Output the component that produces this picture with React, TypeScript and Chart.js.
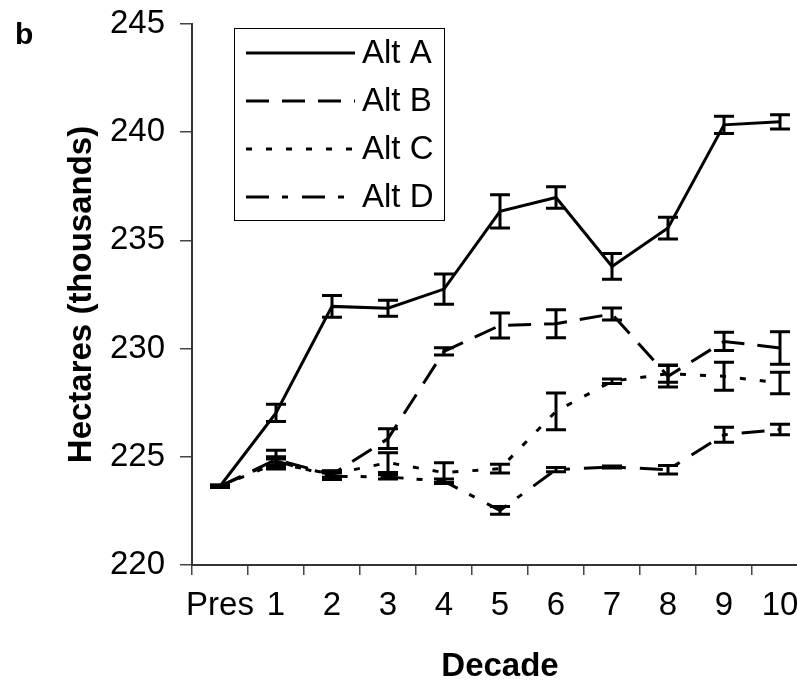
import React, { useEffect, useRef } from "react";
import { Chart, registerables } from "chart.js";

Chart.register(...registerables);

const decades = ["Pres", "1", "2", "3", "4", "5", "6", "7", "8", "9", "10"];
const seriesNames = ["Alt A", "Alt B", "Alt C", "Alt D"];
const altA = [223.64, 227.03, 231.95, 231.87, 232.75, 236.34, 236.98, 233.8, 235.57, 240.34, 240.48];
const altAErr = [0.05, 0.4, 0.5, 0.37, 0.7, 0.77, 0.5, 0.6, 0.5, 0.4, 0.33];
const altB = [223.64, 224.87, 224.18, 225.84, 229.87, 231.07, 231.15, 231.6, 228.72, 230.33, 230.03];
const altBErr = [0.05, 0.43, 0.15, 0.46, 0.17, 0.58, 0.65, 0.28, 0.5, 0.42, 0.75];
const altC = [223.64, 224.7, 224.2, 224.73, 224.27, 224.45, 227.1, 228.49, 228.84, 228.72, 228.41];
const altCErr = [0.05, 0.2, 0.15, 0.46, 0.46, 0.2, 0.85, 0.1, 0.4, 0.65, 0.5];
const altD = [223.64, 224.8, 224.1, 224.07, 223.87, 222.52, 224.41, 224.53, 224.4, 226.02, 226.26];
const altDErr = [0.05, 0.2, 0.15, 0.1, 0.1, 0.18, 0.1, 0.05, 0.2, 0.35, 0.24];
const yTicks = [220, 225, 230, 235, 240, 245];

const FONT = "'Liberation Sans', Arial, sans-serif";

const errorBarPlugin = {
  id: "errorBars",
  afterDatasetsDraw(chart: any) {
    const ctx = chart.ctx;
    const y = chart.scales.y;
    ctx.save();
    ctx.strokeStyle = "#000";
    ctx.lineWidth = 3;
    ctx.setLineDash([]);
    chart.data.datasets.forEach((ds: any, di: number) => {
      const meta = chart.getDatasetMeta(di);
      meta.data.forEach((pt: any, i: number) => {
        const v = ds.data[i];
        const e = ds.errors[i];
        const x = pt.x;
        const y1 = y.getPixelForValue(v + e);
        const y2 = y.getPixelForValue(v - e);
        ctx.beginPath();
        ctx.moveTo(x, y1);
        ctx.lineTo(x, y2);
        ctx.moveTo(x - 10, y1);
        ctx.lineTo(x + 10, y1);
        ctx.moveTo(x - 10, y2);
        ctx.lineTo(x + 10, y2);
        ctx.stroke();
      });
    });
    ctx.restore();
  },
};

const legendPlugin = {
  id: "boxLegend",
  afterDraw(chart: any) {
    const ctx = chart.ctx;
    ctx.save();
    ctx.setLineDash([]);
    ctx.lineWidth = 1;
    ctx.strokeStyle = "#000";
    ctx.strokeRect(234.5, 28.5, 210, 192);
    chart.data.datasets.forEach((ds: any, i: number) => {
      const yy = 53 + i * 48;
      ctx.beginPath();
      ctx.lineWidth = 3;
      ctx.setLineDash(ds.borderDash || []);
      ctx.moveTo(246, yy);
      ctx.lineTo(355, yy);
      ctx.stroke();
      ctx.setLineDash([]);
      ctx.fillStyle = "#000";
      ctx.font = `33px ${FONT}`;
      ctx.textBaseline = "middle";
      ctx.textAlign = "left";
      ctx.fillText(ds.label, 362, yy + 1);
    });
    ctx.font = `bold 30px ${FONT}`;
    ctx.textBaseline = "alphabetic";
    ctx.fillText("b", 15, 44);
    ctx.restore();
  },
};

export default function App() {
  const ref = useRef<HTMLCanvasElement>(null);
  useEffect(() => {
    if (!ref.current) return;
    const values = [altA, altB, altC, altD];
    const errs = [altAErr, altBErr, altCErr, altDErr];
    const dashes = [[], [23, 13], [6, 14], [23, 13, 6, 14]];
    const chart = new Chart(ref.current, {
      type: "line",
      data: {
        labels: decades,
        datasets: seriesNames.map((n, i) => ({
          label: n,
          data: values[i],
          errors: errs[i],
          borderColor: "#000",
          borderWidth: 3,
          borderDash: dashes[i],
          pointRadius: 0,
          fill: false,
          tension: 0,
        })) as any,
      },
      options: {
        animation: false,
        responsive: false,
        layout: { padding: { left: 0, top: 24, right: 12, bottom: 0 } },
        plugins: { legend: { display: false }, tooltip: { enabled: false } },
        scales: {
          x: {
            type: "category",
            offset: true,
            grid: { offset: true, drawOnChartArea: false, tickLength: 10, color: "#444", lineWidth: 1.5 },
            border: { display: true, color: "#333", width: 2 },
            ticks: { color: "#000", font: { family: FONT, size: 33 }, padding: 11, maxRotation: 0, autoSkip: false },
            title: { display: true, text: "Decade", color: "#000", font: { family: FONT, size: 33, weight: "bold", lineHeight: 1 }, padding: { top: 0, bottom: 0 } },
            afterFit: (s: any) => { s.height = 118; s.paddingLeft = 0; s.paddingRight = 0; },
          },
          y: {
            min: 220,
            max: 245,
            afterBuildTicks: (s: any) => { s.ticks = yTicks.map((v) => ({ value: v })); },
            grid: { drawOnChartArea: false, tickLength: 12, color: "#444", lineWidth: 1.5 },
            border: { display: true, color: "#333", width: 2 },
            ticks: { color: "#000", font: { family: FONT, size: 33 }, padding: 15 },
            title: { display: true, text: "Hectares (thousands)", color: "#000", font: { family: FONT, size: 33, weight: "bold", lineHeight: 1 }, padding: { top: 65, bottom: 0 } },
            afterFit: (s: any) => { s.width = 192; s.paddingTop = 0; s.paddingBottom = 0; },
          },
        },
      },
      plugins: [errorBarPlugin, legendPlugin],
    });
    return () => chart.destroy();
  }, []);
  return (
    <div style={{ position: "fixed", left: 0, top: 0, width: 797, height: 683, overflow: "hidden", background: "#fff" }}>
      <canvas ref={ref} width={820} height={683} style={{ display: "block" }} />
    </div>
  );
}
